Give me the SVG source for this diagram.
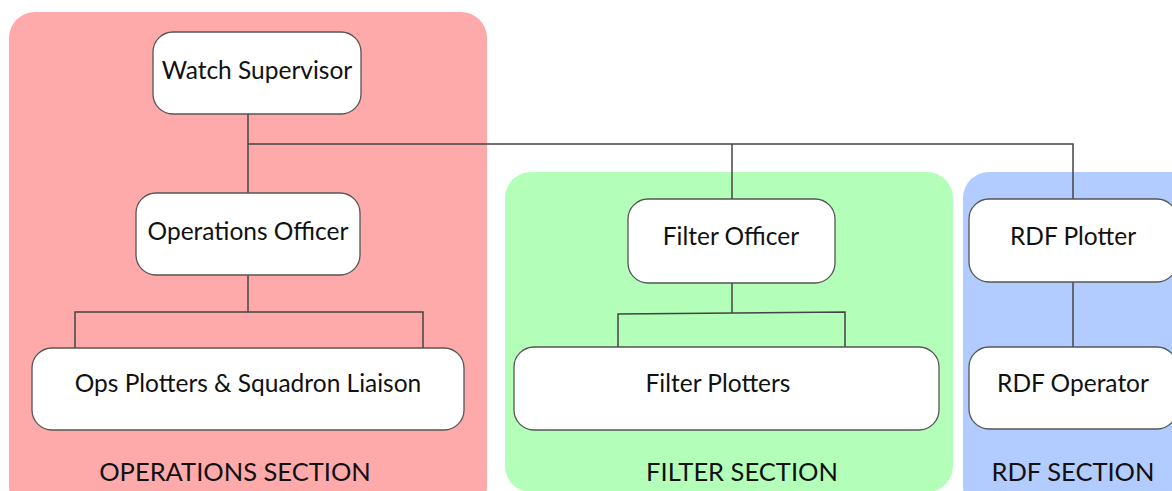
<svg xmlns="http://www.w3.org/2000/svg" width="1172" height="491" viewBox="0 0 1172 491">
  <style>
    .sec { stroke: none; }
    .box { fill: #ffffff; stroke: #555555; stroke-width: 1.3; }
    .lbl { font-family: Lato, "Noto Sans", "Liberation Sans", sans-serif; font-size: 24.5px; fill: #111111; text-anchor: middle; }
    .sectxt { font-family: Lato, "Noto Sans", "Liberation Sans", sans-serif; font-size: 25.5px; fill: #111111; text-anchor: middle; }
    .wire { fill: none; stroke: #444444; stroke-width: 1.5; }
  </style>
  <rect width="1172" height="491" fill="#ffffff"/>

  <!-- section backgrounds -->
  <g id="operations-section">
    <rect class="sec" x="9" y="12" width="478" height="500" rx="26" fill="#ffaaaa"/>
    <text class="sectxt" x="235" y="481">OPERATIONS SECTION</text>
  </g>
  <g id="filter-section">
    <rect class="sec" x="505" y="172" width="448" height="320" rx="26" fill="#b3ffb9"/>
    <text class="sectxt" x="742" y="481">FILTER SECTION</text>
  </g>
  <g id="rdf-section">
    <rect class="sec" x="963" y="172" width="240" height="340" rx="26" fill="#b3ccff"/>
    <text class="sectxt" x="1073" y="481">RDF SECTION</text>
  </g>

  <!-- connectors -->
  <g id="connectors">
    <path class="wire" d="M248 114 V193"/>
    <path class="wire" d="M248 144 H1073 V199"/>
    <path class="wire" d="M732 144 V199"/>
    <path class="wire" d="M248 275 V312"/>
    <path class="wire" d="M75 348 V312 H423 V348"/>
    <path class="wire" d="M732 283 V313"/>
    <path class="wire" d="M618 347 V314 L845 312 V347"/>
    <path class="wire" d="M1073 282 V347"/>
  </g>

  <!-- nodes -->
  <g id="watch-supervisor">
    <rect class="box" x="153" y="32" width="208" height="82" rx="20"/>
    <text class="lbl" x="257" y="79">Watch Supervisor</text>
  </g>
  <g id="operations-officer">
    <rect class="box" x="136" y="193" width="224" height="82" rx="20"/>
    <text class="lbl" x="248" y="240">Operations Officer</text>
  </g>
  <g id="ops-plotters">
    <rect class="box" x="32" y="348" width="432" height="82" rx="20"/>
    <text class="lbl" x="248" y="392">Ops Plotters &amp; Squadron Liaison</text>
  </g>
  <g id="filter-officer">
    <rect class="box" x="628" y="199" width="207" height="84" rx="20"/>
    <text class="lbl" x="731" y="245">Filter Officer</text>
  </g>
  <g id="filter-plotters">
    <rect class="box" x="514" y="347" width="425" height="83" rx="20"/>
    <text class="lbl" x="718" y="392">Filter Plotters</text>
  </g>
  <g id="rdf-plotter">
    <rect class="box" x="969" y="199" width="208" height="83" rx="20"/>
    <text class="lbl" x="1073" y="245">RDF Plotter</text>
  </g>
  <g id="rdf-operator">
    <rect class="box" x="969" y="347" width="208" height="82" rx="20"/>
    <text class="lbl" x="1073" y="392">RDF Operator</text>
  </g>
</svg>
